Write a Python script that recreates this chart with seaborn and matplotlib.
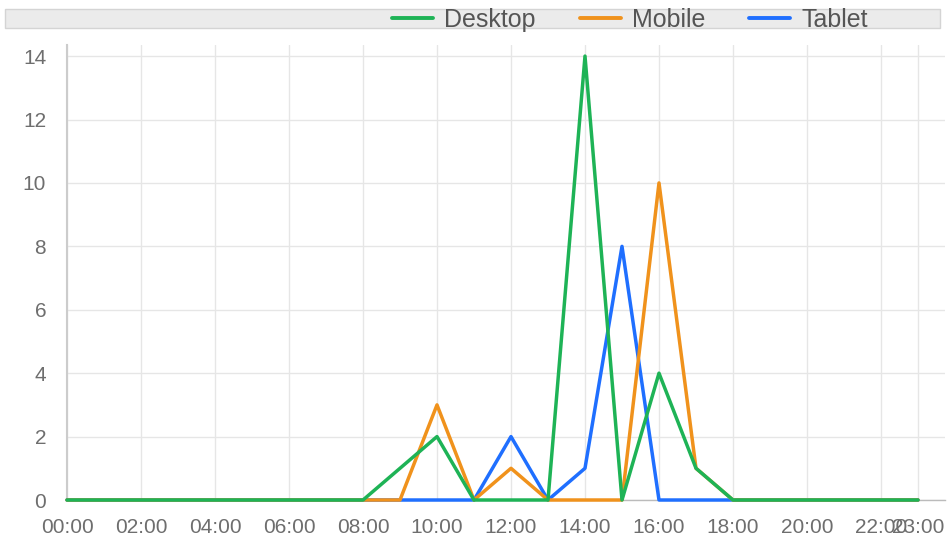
import matplotlib
matplotlib.use("Agg")
import matplotlib.pyplot as plt
from matplotlib.patches import Rectangle
from matplotlib.lines import Line2D
import numpy as np
import pandas as pd
import seaborn as sns

hours = list(range(24))
hour_labels = ["%02d:00" % h for h in hours]
desktop = [0, 0, 0, 0, 0, 0, 0, 0, 0, 1, 2, 0, 0, 0, 14, 0, 4, 1, 0, 0, 0, 0, 0, 0]
mobile = [0, 0, 0, 0, 0, 0, 0, 0, 0, 0, 3, 0, 1, 0, 0, 0, 10, 1, 0, 0, 0, 0, 0, 0]
tablet = [0, 0, 0, 0, 0, 0, 0, 0, 0, 0, 0, 0, 2, 0, 1, 8, 0, 0, 0, 0, 0, 0, 0, 0]
devices = ["Desktop", "Mobile", "Tablet"]
colors = {"Desktop": "#1eb356", "Mobile": "#f0921c", "Tablet": "#1f6fff"}

df = pd.DataFrame({"hour": hours * 3,
                   "visits": desktop + mobile + tablet,
                   "device": [d for d in devices for _ in hours]})

sns.set_style("white")
plt.rcParams["font.family"] = ["Liberation Sans", "DejaVu Sans"]

fig = plt.figure(figsize=(9.49, 5.44), dpi=100)
ax = fig.add_axes([67 / 949, 1 - 500 / 544, 878 / 949, 455 / 544])

sns.lineplot(data=df, x="hour", y="visits", hue="device", hue_order=devices,
             palette=colors, linewidth=2.5, legend=False, ax=ax)
# tablet underneath, desktop on top
for line, z in zip(ax.lines, [5, 4, 3]):
    line.set_zorder(z)
    line.set_clip_on(False)

ax.set_xlim(0, 23.73)
ax.set_ylim(0, 14.35)
xt = list(range(0, 23, 2)) + [23]
ax.set_xticks(xt)
ax.set_xticklabels([hour_labels[h] for h in xt])
ax.set_yticks(range(0, 15, 2))
ax.set_xlabel("")
ax.set_ylabel("")
ax.grid(True, color="#e6e6e6", linewidth=1)
ax.tick_params(axis="x", direction="out", length=11, width=1, color="#dddddd",
               pad=2, labelsize=15, labelcolor="#6e6e6e")
ax.tick_params(axis="y", direction="out", length=14, width=1, color="#dddddd",
               pad=1, labelsize=15, labelcolor="#6e6e6e")
for s in ["top", "right"]:
    ax.spines[s].set_visible(False)
ax.spines["left"].set_color("#cccccc")
ax.spines["left"].set_linewidth(1.5)
ax.spines["bottom"].set_color("#bbbbbb")
ax.spines["bottom"].set_linewidth(1)

# legend strip
fig.patches.append(Rectangle((5 / 949, 1 - 28 / 544), 935 / 949, 19 / 544,
                             transform=fig.transFigure, facecolor="#ebebeb",
                             edgecolor="#d4d4d4", linewidth=1, zorder=0))
handles = [Line2D([], [], color=colors[d], linewidth=2.8) for d in devices]
fig.legend(handles, devices, loc="center", bbox_to_anchor=(630 / 949, 1 - 20 / 544),
           ncol=3, frameon=False, fontsize=18, handlelength=1.65, handletextpad=0.45,
           columnspacing=1.75, labelcolor="#555555", borderpad=0)

fig.savefig("out.png", dpi=100)
